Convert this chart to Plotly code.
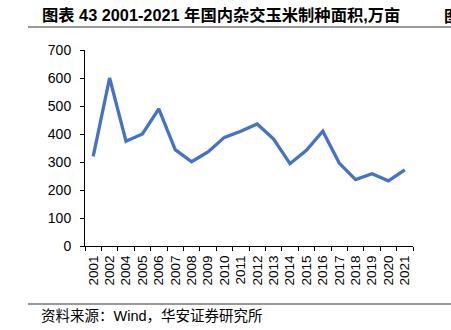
import plotly.graph_objects as go

years = ["2001", "2002", "2004", "2005", "2006", "2007", "2008", "2009", "2010", "2011",
         "2012", "2013", "2014", "2015", "2016", "2017", "2018", "2019", "2020", "2021"]
area = [320, 600, 374, 400, 490, 344, 301, 336, 388, 410,
        436, 382, 294, 342, 410, 296, 237, 258, 233, 272]
y_ticks = [0, 100, 200, 300, 400, 500, 600, 700]

title_text = "<b>图表 43 2001-2021 年国内杂交玉米制种面积,万亩</b>"
source_text = "资料来源：Wind，华安证券研究所"

W, H = 451, 330
L, R, T, B = 85, 38, 50, 84
pw, ph = W - L - R, H - T - B


def px(x):
    return (x - L) / pw


def py(y):
    return (H - B - y) / ph


fig = go.Figure()
fig.add_trace(go.Scatter(
    x=years, y=area, mode="lines",
    line=dict(color="#4472C4", width=3.3),
    showlegend=False,
))

font_main = "Liberation Sans, Arial, Noto Sans CJK SC, sans-serif"
fig.update_layout(
    width=W, height=H,
    margin=dict(l=L, r=R, t=T, b=B),
    plot_bgcolor="white", paper_bgcolor="white",
    font=dict(family=font_main, color="black"),
    xaxis=dict(
        type="category", tickangle=-90, tickfont=dict(size=13.5),
        range=[-0.5, len(years) - 0.5],
        showline=True, linecolor="black", linewidth=1,
        ticks="outside", ticklen=4, tickcolor="black", tickson="boundaries",
        ticklabelstandoff=3,
        showgrid=False, zeroline=False,
    ),
    yaxis=dict(
        range=[0, 700], tickvals=y_ticks, tickfont=dict(size=14),
        showline=True, linecolor="black", linewidth=1,
        ticks="outside", ticklen=4, tickcolor="black",
        ticklabelstandoff=6,
        showgrid=False, zeroline=False,
    ),
    shapes=[
        dict(type="line", xref="paper", yref="paper",
             x0=px(28), x1=px(452), y0=py(27), y1=py(27),
             line=dict(color="#333333", width=1.2)),
        dict(type="line", xref="paper", yref="paper",
             x0=px(28), x1=px(452), y0=py(304), y1=py(304),
             line=dict(color="#333333", width=1.2)),
    ],
    annotations=[
        dict(text=title_text, xref="paper", yref="paper",
             x=px(40), y=py(15), xanchor="left", yanchor="middle",
             showarrow=False,
             font=dict(size=16.3, family="Liberation Sans, Noto Sans CJK SC, sans-serif")),
        dict(text="<b>图</b>", xref="paper", yref="paper",
             x=px(442), y=py(15), xanchor="left", yanchor="middle",
             showarrow=False,
             font=dict(size=16, family="Noto Sans CJK SC, sans-serif")),
        dict(text=source_text, xref="paper", yref="paper",
             x=px(39), y=py(316), xanchor="left", yanchor="middle",
             showarrow=False,
             font=dict(size=14.5, family="Liberation Sans, Noto Sans CJK SC, sans-serif")),
    ],
)

fig.write_html("out.html")
